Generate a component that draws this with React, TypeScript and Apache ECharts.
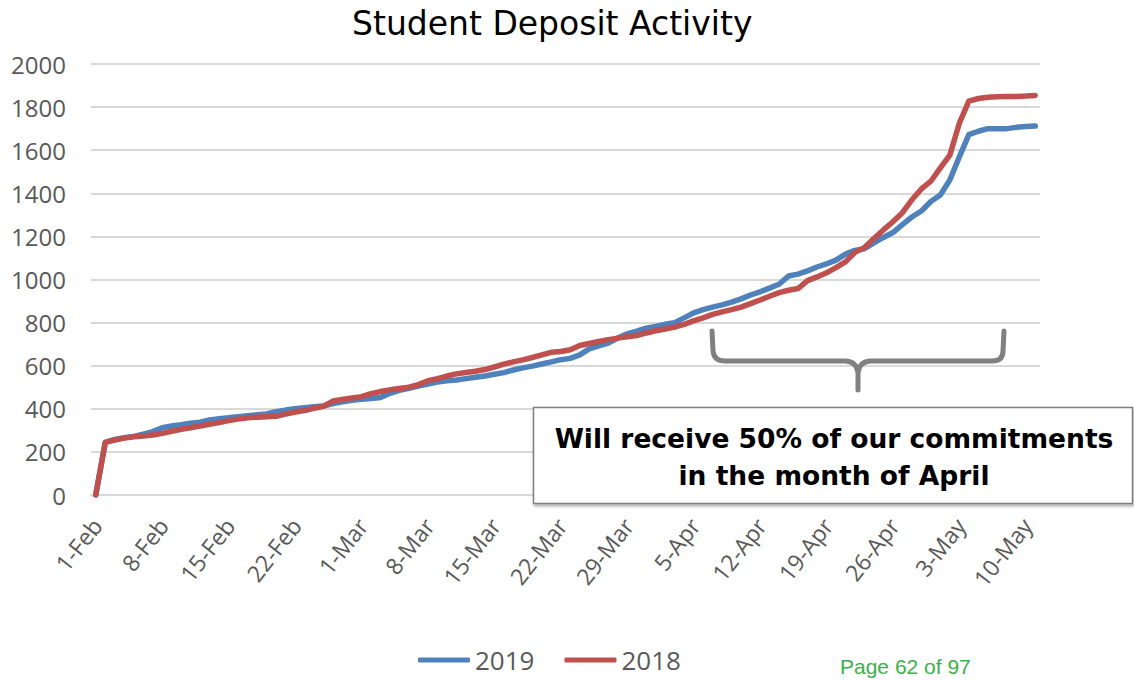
import React, { useEffect, useRef } from "react";
import * as echarts from "echarts";

const monthNames = ["Feb", "Mar", "Apr", "May"];
const monthDays = [28, 31, 30, 11];

const categories: string[] = [];
monthNames.forEach((m, i) => {
  for (let d = 1; d <= monthDays[i]; d++) categories.push(`${d}-${m}`);
});

const tickLabels = ["1-Feb", "8-Feb", "15-Feb", "22-Feb", "1-Mar", "8-Mar", "15-Mar", "22-Mar", "29-Mar", "5-Apr", "12-Apr", "19-Apr", "26-Apr", "3-May", "10-May"];

const series2019 = [
  0, 244, 258, 266, 272, 282, 294, 312, 320, 326,
  333, 338, 348, 354, 358, 363, 368, 372, 376, 387,
  394, 400, 405, 409, 413, 424, 433, 440, 444, 448,
  452, 472, 486, 495, 506, 515, 524, 530, 534, 540,
  546, 552, 560, 568, 580, 590, 598, 608, 618, 628,
  634, 650, 678, 692, 705, 728, 748, 760, 774, 782,
  792, 800, 822, 845, 860, 872, 882, 895, 910, 928,
  943, 960, 978, 1016, 1025, 1040, 1058, 1072, 1090, 1118,
  1135, 1143, 1170, 1195, 1218, 1255, 1290, 1318, 1362, 1392,
  1462, 1569, 1672, 1688, 1700, 1700, 1700, 1706, 1710, 1712,
];

const series2018 = [
  0, 244, 255, 264, 270, 274, 278, 286, 296, 305,
  312, 320, 328, 336, 345, 352, 358, 361, 363, 365,
  375, 385, 392, 402, 412, 436, 443, 450, 456, 470,
  480, 488, 494, 500, 512, 530, 540, 552, 562, 568,
  574, 582, 594, 607, 618, 627, 638, 650, 662, 666,
  674, 694, 703, 712, 721, 728, 734, 740, 752, 762,
  770, 779, 792, 808, 822, 838, 850, 860, 872, 888,
  905, 922, 939, 950, 958, 995, 1012, 1031, 1055, 1082,
  1126, 1148, 1190, 1230, 1268, 1310, 1370, 1420, 1456, 1518,
  1577, 1725, 1828, 1840, 1846, 1848, 1849, 1849, 1851, 1854,
];

const seriesNames = ["2019", "2018"];
const seriesColors = ["#4f81bd", "#c0504d"];

const titleText = "Student Deposit Activity";
const noteLines = ["Will receive 50% of our commitments", "in the month of April"];
const pageText = "Page 62 of 97";

const braceD =
  "M712,331 L713,351 Q714,361 725,361 L846,361 Q857,362 858,373 L858,390 M858,373 Q859,362 870,361 L992,361 Q1003,361 1003,351 L1004,331";

export default function App() {
  const ref = useRef<HTMLDivElement>(null);

  useEffect(() => {
    document.body.style.margin = "0";
    try {
      echarts.graphic.registerShape("brace", echarts.graphic.extendPath(braceD, {}));
    } catch (e) {}
    const chart = echarts.init(ref.current!, null, { renderer: "svg" });
    const staticGraphics: any[] = [
      {
        id: "brace",
        type: "brace",
        x: 0,
        y: 0,
        z: 100,
        style: { stroke: "#808080", lineWidth: 5, fill: "none", lineCap: "round", lineJoin: "round" },
      },
      {
        id: "noteBox",
        type: "rect",
        z: 100,
        shape: { x: 533.5, y: 407.5, width: 599, height: 96 },
        style: {
          fill: "#ffffff",
          stroke: "#7f7f7f",
          lineWidth: 1.5,
          shadowBlur: 3,
          shadowOffsetX: 1,
          shadowOffsetY: 2,
          shadowColor: "rgba(0,0,0,0.35)",
        },
      },
      {
        id: "note1",
        type: "text",
        z: 101,
        x: 834,
        y: 438,
        style: {
          text: noteLines[0],
          fontFamily: "DejaVu Sans",
          fontWeight: "bold",
          fontSize: 26.5,
          fill: "#000000",
          align: "center",
          verticalAlign: "middle",
        },
      },
      {
        id: "note2",
        type: "text",
        z: 101,
        x: 834,
        y: 475,
        style: {
          text: noteLines[1],
          fontFamily: "DejaVu Sans",
          fontWeight: "bold",
          fontSize: 26.5,
          fill: "#000000",
          align: "center",
          verticalAlign: "middle",
        },
      },
      {
        id: "page",
        type: "text",
        x: 840,
        y: 666,
        style: {
          text: pageText,
          fontFamily: "Liberation Sans",
          fontSize: 21,
          fill: "#3cb04a",
          align: "left",
          verticalAlign: "middle",
        },
      },
    ];
    chart.setOption({
      animation: false,
      backgroundColor: "#ffffff",
      title: {
        text: titleText,
        left: 347,
        top: 2,
        textStyle: {
          fontFamily: "DejaVu Sans",
          fontSize: 33,
          fontWeight: "normal",
          color: "#000000",
        },
      },
      grid: { left: 91, right: 94, top: 64, bottom: 185, containLabel: false },
      legend: {
        data: seriesNames,
        left: 418,
        top: 647,
        padding: 0,
        icon: "roundRect",
        itemWidth: 52,
        itemHeight: 5,
        itemGap: 30,
        textStyle: { fontFamily: "Open Sans", fontSize: 26, color: "#595959" },
      },
      xAxis: {
        type: "category",
        data: categories,
        boundaryGap: true,
        axisLine: { show: true, lineStyle: { color: "#d9d9d9", width: 2 } },
        axisTick: { show: false },
        axisLabel: { show: false },
        splitLine: { show: false },
      },
      yAxis: {
        type: "value",
        min: 0,
        max: 2000,
        interval: 200,
        axisLine: { show: false },
        axisTick: { show: false },
        axisLabel: {
          margin: 25,
          fontFamily: "Open Sans",
          fontSize: 24,
          color: "#595959",
          formatter: (v: number) => String(v),
        },
        splitLine: { show: true, lineStyle: { color: "#d9d9d9", width: 2 } },
      },
      series: [
        {
          name: seriesNames[0],
          type: "line",
          data: series2019,
          symbol: "none",
          color: seriesColors[0],
          lineStyle: { width: 5.5, color: seriesColors[0], join: "round", cap: "round" },
        },
        {
          name: seriesNames[1],
          type: "line",
          data: series2018,
          symbol: "none",
          color: seriesColors[1],
          lineStyle: { width: 5.5, color: seriesColors[1], join: "round", cap: "round" },
        },
      ],
      graphic: staticGraphics,
    });

    const zeroY = chart.convertToPixel({ yAxisIndex: 0 }, 0) as number;
    const labelGraphics = tickLabels.map((lbl, i) => {
      const px = chart.convertToPixel({ xAxisIndex: 0 }, lbl) as number;
      return {
        id: "xl" + i,
        type: "text",
        x: px + 1,
        y: zeroY + 26,
        rotation: (52 * Math.PI) / 180,
        style: {
          text: lbl,
          fontFamily: "Open Sans",
          fontSize: 23,
          fill: "#595959",
          align: "right",
          verticalAlign: "middle",
        },
      };
    });
    chart.setOption({ graphic: [...staticGraphics, ...labelGraphics] });

    return () => chart.dispose();
  }, []);

  return <div ref={ref} style={{ width: 1134, height: 680 }} />;
}
